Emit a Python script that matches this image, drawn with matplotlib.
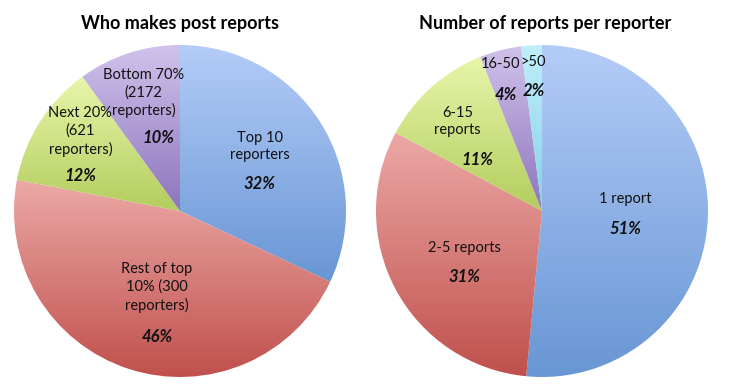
import numpy as np
import matplotlib
matplotlib.use('Agg')
import matplotlib.pyplot as plt
from matplotlib.colors import LinearSegmentedColormap

# Left pie: who makes post reports
left_labels = ['Top 10\nreporters', 'Rest of top\n10% (300\nreporters)',
               'Next 20%\n(621\nreporters)', 'Bottom 70%\n(2172\nreporters)']
left_values = [32, 46, 12, 10]

# Right pie: number of reports per reporter
right_labels = ['1 report', '2-5 reports', '6-15\nreports', '16-50', '>50']
right_values = [51, 31, 11, 4, 2]

# gradient colours (top, bottom) per slice
blue = ('#b4ccf8', '#6896d4')
red = ('#eca9a6', '#c0504d')
green = ('#e7f6aa', '#b3cd5e')
purple = ('#d0c2eb', '#8d74bd')
cyan = ('#c0eefb', '#84d1e8')

left_colors = [blue, red, green, purple]
right_colors = [blue, red, green, purple, cyan]

# label / percent positions in pie units (centre 0,0, radius 1)
left_label_pos = [(0.48, 0.39), (-0.14, -0.46), (-0.60, 0.48), (-0.22, 0.71)]
left_pct_pos = [(0.48, 0.16), (-0.14, -0.76), (-0.60, 0.21), (-0.13, 0.44)]
right_label_pos = [(0.50, 0.07), (-0.47, -0.22), (-0.51, 0.54), (-0.25, 0.885), (-0.055, 0.9)]
right_pct_pos = [(0.50, -0.11), (-0.47, -0.40), (-0.39, 0.31), (-0.22, 0.70), (-0.05, 0.72)]

plt.rcParams['font.family'] = ['Lato', 'DejaVu Sans']

W, H = 729, 386
fig = plt.figure(figsize=(W / 100, H / 100), dpi=100)
R = 166


def draw_pie(cx, cy, values, colors, labels, label_pos, pct_pos, title, title_x):
    ax = fig.add_axes([(cx - R) / W, (H - cy - R) / H, 2 * R / W, 2 * R / H])
    wedges, _ = ax.pie(values, startangle=90, counterclock=False, radius=1,
                       wedgeprops=dict(linewidth=0))
    grad = np.linspace(0, 1, 256).reshape(-1, 1)
    for w, (c_top, c_bot) in zip(wedges, colors):
        w.set_facecolor('none')
        bb = w.get_path().get_extents(w.get_patch_transform())
        cmap = LinearSegmentedColormap.from_list('g', [c_top, c_bot])
        im = ax.imshow(grad, cmap=cmap, aspect='auto', origin='upper',
                       extent=[bb.x0, bb.x1, bb.y0, bb.y1], zorder=1)
        im.set_clip_path(w)
    for lab, (lx, ly), (px, py), v in zip(labels, label_pos, pct_pos, values):
        ax.text(lx, ly, lab, ha='center', va='center', fontsize=10.5,
                color='#111111', linespacing=1.3, zorder=3)
        ax.text(px, py, f'{v}%', ha='center', va='center', fontsize=12,
                fontweight='bold', fontstyle='italic', color='#111111', zorder=3)
    ax.set_xlim(-1, 1)
    ax.set_ylim(-1, 1)
    ax.set_aspect('equal')
    ax.axis('off')
    fig.text(title_x / W, 1 - 23 / H, title, ha='center', va='center',
             fontsize=13, fontweight='bold', color='black')


draw_pie(180, 211, left_values, left_colors, left_labels,
         left_label_pos, left_pct_pos, 'Who makes post reports', 180)
draw_pie(542, 211, right_values, right_colors, right_labels,
         right_label_pos, right_pct_pos, 'Number of reports per reporter', 545)

fig.savefig('out.png', dpi=100)
